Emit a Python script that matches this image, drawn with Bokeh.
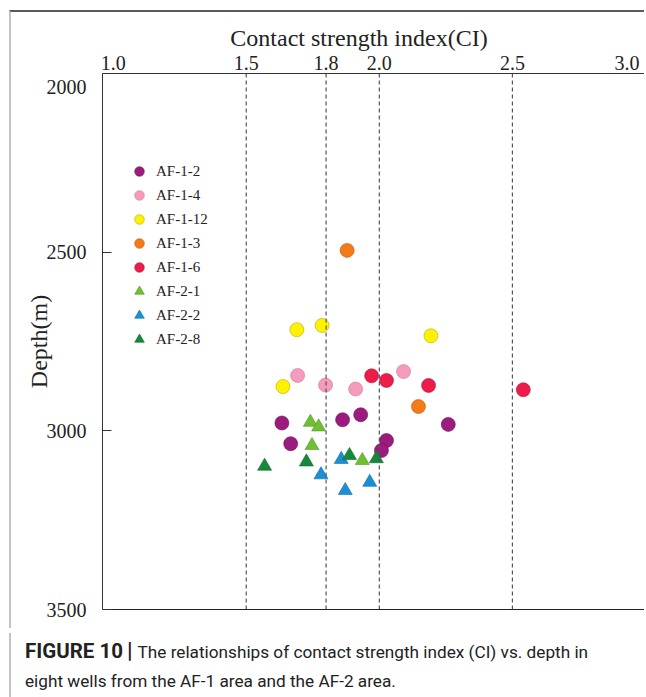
from bokeh.plotting import figure
from bokeh.layouts import column
from bokeh.models import (LinearAxis, FixedTicker, PrintfTickFormatter, Span, Legend,
                          LegendItem, Range1d, Div)
from bokeh.embed import file_html
from bokeh.resources import INLINE

# Axis ticks and the dashed CI reference lines
x_ticks = [1.0, 1.5, 1.8, 2.0, 2.5, 3.0]
y_ticks = [2000, 2500, 3000, 3500]
ci_guides = [1.5, 1.8, 2.0, 2.5]

# Wells, in legend order
wells = ["AF-1-2", "AF-1-4", "AF-1-12", "AF-1-3", "AF-1-6", "AF-2-1", "AF-2-2", "AF-2-8"]

# Contact strength index (CI) and depth (m) for each well
af1_2_ci = [1.634, 1.667, 1.862, 1.930, 2.027, 2.008, 2.259]
af1_2_depth = [2978, 3036, 2969, 2955, 3027, 3055, 2982]
af1_4_ci = [1.693, 1.798, 1.911, 2.091]
af1_4_depth = [2845, 2872, 2883, 2834]
af1_12_ci = [1.690, 1.785, 2.194, 1.638]
af1_12_depth = [2717, 2705, 2734, 2876]
af1_3_ci = [1.879, 2.147]
af1_3_depth = [2495, 2932]
af1_6_ci = [1.971, 2.027, 2.185, 2.541]
af1_6_depth = [2846, 2859, 2873, 2885]
af2_1_ci = [1.741, 1.772, 1.747, 1.936]
af2_1_depth = [2976, 2989, 3041, 3083]
af2_2_ci = [1.857, 1.781, 1.964, 1.872]
af2_2_depth = [3080, 3123, 3144, 3167]
af2_8_ci = [1.569, 1.726, 1.888, 1.989]
af2_8_depth = [3099, 3087, 3069, 3078]

series_ci = [af1_2_ci, af1_4_ci, af1_12_ci, af1_3_ci, af1_6_ci, af2_1_ci, af2_2_ci, af2_8_ci]
series_depth = [af1_2_depth, af1_4_depth, af1_12_depth, af1_3_depth, af1_6_depth,
                af2_1_depth, af2_2_depth, af2_8_depth]

markers = ["circle"] * 5 + ["triangle"] * 3
fills = ["#9b1b7f", "#f59bbd", "#fff200", "#f57a1a", "#ec1c4b", "#6fbf30", "#1b8fd6", "#16883c"]
edges = ["#6d0f58", "#c97a97", "#b8a800", "#b85a10", "#b01336", "#55952a", "#146da3", "#0f6a2d"]

SERIF = "Liberation Serif"
NBSP = "\u00a0"

p = figure(
    width=635, height=618,
    x_range=Range1d(0.96, 3.0),
    y_range=Range1d(3500, 2000),
    x_axis_location=None, y_axis_location=None,
    output_backend="svg", toolbar_location=None,
    min_border_left=91, min_border_top=61, min_border_right=1, min_border_bottom=21,
    outline_line_color=None,
    styles={"margin-left": "9px", "margin-top": "10px",
            "border-left": "2px solid #c4c4c4", "border-top": "2px solid #5a5a5a"},
)
p.grid.visible = False

# Top axis: CI (the last label is pulled inside the corner)
top = LinearAxis(ticker=FixedTicker(ticks=x_ticks),
                 axis_label="Contact strength index(CI)" + NBSP * 5,
                 formatter=PrintfTickFormatter(format="%.1f"))
top.major_label_overrides = {3.0: "3.0" + NBSP}
top.axis_line_color = "#333333"
top.major_tick_line_color = None
top.minor_tick_line_color = None
top.major_label_standoff = -6
top.major_label_text_font = SERIF
top.major_label_text_font_size = "20px"
top.major_label_text_color = "#222222"
top.axis_label_text_font = SERIF
top.axis_label_text_font_size = "24px"
top.axis_label_text_font_style = "normal"
top.axis_label_text_color = "#222222"
top.axis_label_standoff = -2
p.add_layout(top, "above")

# Left axis: depth
left = LinearAxis(ticker=FixedTicker(ticks=y_ticks), axis_label="Depth(m)")
left.major_label_overrides = {2000: "\n2000"}
left.axis_line_color = "#333333"
left.major_tick_in = 9
left.major_tick_out = 0
left.major_tick_line_color = "#333333"
left.minor_tick_line_color = None
left.major_label_standoff = 16
left.major_label_text_font = SERIF
left.major_label_text_font_size = "20px"
left.major_label_text_color = "#222222"
left.axis_label_text_font = SERIF
left.axis_label_text_font_size = "24px"
left.axis_label_text_font_style = "normal"
left.axis_label_text_color = "#222222"
left.axis_label_standoff = -8
p.add_layout(left, "left")

# Bottom frame line
bottom = LinearAxis(ticker=FixedTicker(ticks=[]))
bottom.axis_line_color = "#222222"
bottom.major_tick_line_color = None
bottom.minor_tick_line_color = None
bottom.major_label_text_font_size = "0px"
p.add_layout(bottom, "below")

# Dashed CI guide lines
for g in ci_guides:
    p.add_layout(Span(location=g, dimension="height", line_color="#555555",
                      line_dash="4 3", line_width=1.2))

items = []
for name, xs, ys, m, fc, ec in zip(wells, series_ci, series_depth, markers, fills, edges):
    r = p.scatter(xs, ys, marker=m, size=14, fill_color=fc, line_color=ec, line_width=0.6)
    items.append(LegendItem(label=name, renderers=[r]))

legend = Legend(items=items, location=(25, 258),
                label_text_font=SERIF, label_text_font_size="15px", label_text_color="#222222",
                glyph_width=24, glyph_height=24, label_height=20, spacing=0, padding=0,
                label_standoff=5, border_line_color=None, background_fill_alpha=0)
p.add_layout(legend)

# Figure caption
caption = Div(
    text=('<span style="font-family:Roboto;font-weight:bold;font-size:20.5px">'
          'FIGURE 10</span><span style="font-family:Roboto;font-weight:bold;'
          'font-size:22px;margin:0 5px 0 4px">|</span>'
          'The relationships of contact strength index (CI) vs. depth in<br>'
          'eight wells from the AF-1 area and the AF-2 area.'),
    width=635, height=67,
    styles={"margin-left": "9px", "border-left": "2px solid #c4c4c4",
            "padding-left": "14px", "padding-top": "3px", "box-sizing": "border-box",
            "font-family": "Roboto", "font-size": "17.2px",
            "line-height": "29px", "color": "#222222"},
)

open("out.html", "w").write(file_html(column(p, caption, spacing=0), INLINE))
